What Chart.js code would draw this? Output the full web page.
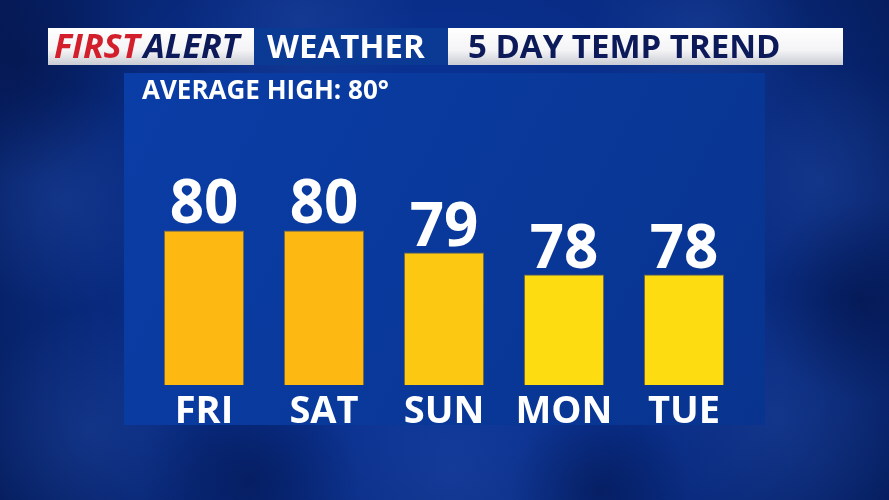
<!DOCTYPE html>
<html>
<head>
<meta charset="utf-8">
<script src="https://cdn.jsdelivr.net/npm/chart.js@4.4.0/dist/chart.umd.min.js"></script>
<style>
  html, body { margin: 0; padding: 0; background: #08287a; }
  canvas { display: block; }
</style>
</head>
<body>
<canvas id="tempChart" width="889" height="500"></canvas>
<script>
// 5 day high temperature trend
const days = ['FRI', 'SAT', 'SUN', 'MON', 'TUE'];
const highs = [80, 80, 79, 78, 78];
const averageHigh = 80;
const yMin = 73;
const yMax = 86;

const barColors = ['#fdb812', '#fdb812', '#fdc811', '#fddd12', '#fddd12'];
const FONT = '"Open Sans", "Noto Sans", sans-serif';

// background, header and panel
const backdrop = {
  id: 'backdrop',
  beforeDraw(chart) {
    const c = chart.ctx;
    const W = chart.width, H = chart.height;
    c.save();
    let g = c.createRadialGradient(445, 250, 60, 445, 250, 560);
    g.addColorStop(0, '#0a36a0');
    g.addColorStop(0.6, '#08297c');
    g.addColorStop(1, '#051a55');
    c.fillStyle = g;
    c.fillRect(0, 0, W, H);
    // soft cloud blobs
    const blobs = [[60, 200, 110], [820, 180, 120], [780, 420, 140], [90, 430, 120], [450, 470, 160], [300, 20, 120], [700, 30, 110]];
    blobs.forEach(([x, y, r]) => {
      const b = c.createRadialGradient(x, y, 0, x, y, r);
      b.addColorStop(0, 'rgba(40,80,170,0.35)');
      b.addColorStop(1, 'rgba(40,80,170,0)');
      c.fillStyle = b;
      c.fillRect(x - r, y - r, r * 2, r * 2);
    });
    const dark = [[20, 60, 120], [860, 300, 100], [250, 480, 110], [600, 490, 90]];
    dark.forEach(([x, y, r]) => {
      const b = c.createRadialGradient(x, y, 0, x, y, r);
      b.addColorStop(0, 'rgba(3,15,60,0.45)');
      b.addColorStop(1, 'rgba(3,15,60,0)');
      c.fillStyle = b;
      c.fillRect(x - r, y - r, r * 2, r * 2);
    });

    // panel
    g = c.createLinearGradient(124, 73, 765, 425);
    g.addColorStop(0, '#0a3da6');
    g.addColorStop(1, '#08348f');
    c.fillStyle = g;
    c.fillRect(124, 73, 641, 352);

    // header boxes
    const white = (x, w) => {
      const wg = c.createLinearGradient(0, 28, 0, 65);
      wg.addColorStop(0, '#ffffff');
      wg.addColorStop(0.6, '#f4f4f6');
      wg.addColorStop(1, '#c9ccd4');
      c.fillStyle = wg;
      c.fillRect(x, 28, w, 37);
    };
    white(48, 206);
    c.fillStyle = '#0a3a94';
    c.fillRect(254, 28, 194, 37);
    white(448, 395);

    c.textBaseline = 'alphabetic';
    c.font = 'italic bold 34px ' + FONT;
    c.fillStyle = '#d21f2b';
    c.fillText('FIRST', 54, 58);
    const fw = c.measureText('FIRST ').width;
    c.fillStyle = '#0c1a5a';
    c.fillText('ALERT', 54 + fw - 5, 58);

    c.font = 'bold 33px ' + FONT;
    c.fillStyle = '#ffffff';
    c.fillText('WEATHER', 267, 58);
    c.fillStyle = '#0c1a5a';
    c.fillText('5 DAY TEMP TREND', 468, 58);

    c.font = 'bold 26px ' + FONT;
    c.fillStyle = '#ffffff';
    c.fillText('AVERAGE HIGH: ' + averageHigh + '\u00b0', 142, 99);
    c.restore();
  }
};

// numbers on top of bars and day names underneath
const barText = {
  id: 'barText',
  afterDatasetsDraw(chart) {
    const c = chart.ctx;
    const meta = chart.getDatasetMeta(0);
    const xs = chart.scales.x;
    c.save();
    c.fillStyle = '#ffffff';
    c.textAlign = 'center';
    c.textBaseline = 'alphabetic';
    c.font = 'bold 60px ' + FONT;
    meta.data.forEach((bar, i) => {
      c.fillText(String(highs[i]), bar.x, bar.y - 7);
    });
    c.font = 'bold 38px ' + FONT;
    days.forEach((d, i) => {
      c.fillText(d, xs.getPixelForValue(i), chart.chartArea.bottom + 38);
    });
    c.restore();
  }
};

new Chart(document.getElementById('tempChart'), {
  type: 'bar',
  data: {
    labels: days,
    datasets: [{
      data: highs,
      backgroundColor: barColors,
      borderColor: 'rgba(200,140,0,0.6)',
      borderWidth: 1,
      barPercentage: 80 / 120,
      categoryPercentage: 1
    }]
  },
  options: {
    responsive: false,
    animation: false,
    layout: { padding: { left: 144, right: 145, top: 98, bottom: 115 } },
    plugins: { legend: { display: false }, tooltip: { enabled: false } },
    scales: {
      x: { display: false },
      y: { display: false, min: yMin, max: yMax }
    }
  },
  plugins: [backdrop, barText]
});
</script>
</body>
</html>
